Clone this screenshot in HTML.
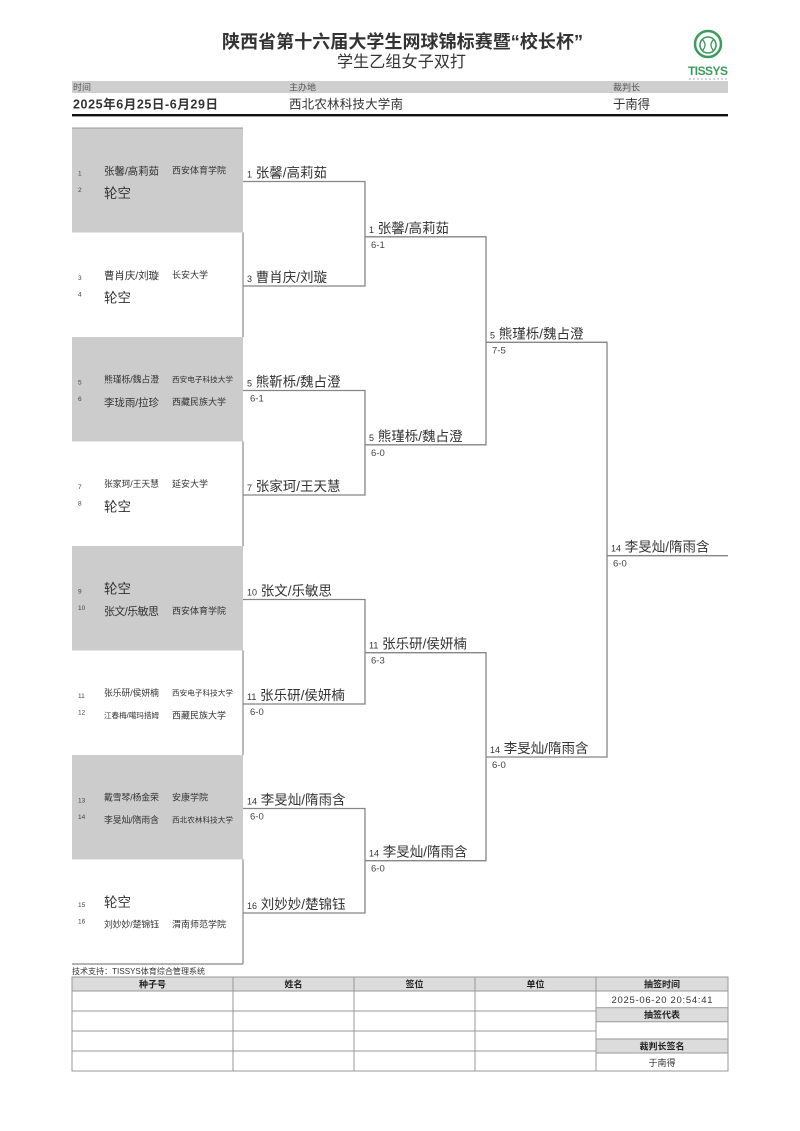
<!DOCTYPE html>
<html><head><meta charset="utf-8">
<style>
html,body{margin:0;padding:0;background:#fff;}
svg{display:block;}
text{font-family:"Liberation Sans","Noto Sans CJK SC",sans-serif;fill:#333;}
.sd{font-size:6.5px;fill:#444;}
.bn{font-size:13.5px;fill:#333;}
.bs{font-size:9px;}
.sc{font-size:9.5px;fill:#444;}
.th{font-size:9px;font-weight:bold;fill:#222;}
.lb{font-size:9px;fill:#555;}
</style></head><body>
<svg width="800" height="1131" viewBox="0 0 800 1131" xmlns="http://www.w3.org/2000/svg">
<rect width="800" height="1131" fill="#fff"/>

<!-- Title -->
<text x="222" y="48" font-size="18" font-weight="bold" fill="#222" textLength="361">陕西省第十六届大学生网球锦标赛暨“校长杯”</text>
<text x="337" y="67" font-size="16" fill="#333" textLength="129">学生乙组女子双打</text>

<!-- Logo -->
<g>
<circle cx="708" cy="44" r="13" fill="none" stroke="#3c9c5c" stroke-width="2.5"/>
<circle cx="708" cy="45" r="8" fill="none" stroke="#3c9c5c" stroke-width="1.6"/>
<path d="M702 39 Q708 45 702 51 M714 39 Q708 45 714 51" fill="none" stroke="#3c9c5c" stroke-width="1.3"/>
<text x="688" y="75" font-size="12" font-weight="bold" textLength="40" style="fill:#3c9c5c">TISSYS</text>
<line x1="689" y1="79" x2="727" y2="79" stroke="#bbb" stroke-width="1.2" stroke-dasharray="2,2"/>
</g>

<!-- Info band -->
<rect x="72" y="81" width="656" height="12" fill="#cfcfcf"/>
<text x="73" y="90.5" class="lb">时间</text>
<text x="289" y="90.5" class="lb">主办地</text>
<text x="613" y="90.5" class="lb">裁判长</text>
<text x="73" y="108.5" font-size="12.5" font-weight="bold" fill="#333" textLength="145">2025年6月25日-6月29日</text>
<text x="289" y="108.5" font-size="12.5" fill="#333" textLength="114">西北农林科技大学南</text>
<text x="613" y="108.5" font-size="12.5" fill="#333" textLength="37">于南得</text>
<rect x="72" y="114" width="656" height="2.4" fill="#111"/>

<!-- Draw blocks -->
<rect x="72" y="128" width="171" height="104.5" fill="#cccccc"/>
<rect x="72" y="337" width="171" height="104.5" fill="#cccccc"/>
<rect x="72" y="546" width="171" height="104.5" fill="#cccccc"/>
<rect x="72" y="755" width="171" height="104.5" fill="#cccccc"/>
<line x1="72" y1="128" x2="243" y2="128" stroke="#999" stroke-width="1"/>
<path d="M243 232.5 V337 M243 441.5 V546 M243 650.5 V755 M243 859.5 V964 M72 964 H243" fill="none" stroke="#888" stroke-width="1.2"/>

<!-- Left entries -->
<text x="78" y="175.3" class="sd">1</text>
<text x="78" y="191.8" class="sd">2</text>
<text x="104" y="174.3" font-size="10.5" textLength="55">张馨/高莉茹</text>
<text x="172" y="173.7" font-size="9" textLength="54">西安体育学院</text>
<text x="104" y="197.9" font-size="13.5" textLength="27">轮空</text>

<text x="78" y="279.8" class="sd">3</text>
<text x="78" y="296.3" class="sd">4</text>
<text x="104" y="278.8" font-size="10.5" textLength="55">曹肖庆/刘璇</text>
<text x="172" y="278.2" font-size="9" textLength="36">长安大学</text>
<text x="104" y="302.4" font-size="13.5" textLength="27">轮空</text>

<text x="78" y="384.3" class="sd">5</text>
<text x="78" y="400.8" class="sd">6</text>
<text x="104" y="382.7" font-size="8.85" textLength="55">熊瑾栎/魏占澄</text>
<text x="172" y="382.2" font-size="7.6" textLength="61">西安电子科技大学</text>
<text x="104" y="405.8" font-size="10.5" textLength="55">李珑雨/拉珍</text>
<text x="172" y="405.2" font-size="9" textLength="54">西藏民族大学</text>

<text x="78" y="488.8" class="sd">7</text>
<text x="78" y="505.3" class="sd">8</text>
<text x="104" y="487.2" font-size="8.85" textLength="55">张家珂/王天慧</text>
<text x="172" y="487.2" font-size="9" textLength="36">延安大学</text>
<text x="104" y="511.4" font-size="13.5" textLength="27">轮空</text>

<text x="78" y="593.3" class="sd">9</text>
<text x="78" y="609.8" class="sd">10</text>
<text x="104" y="593.4" font-size="13.5" textLength="27">轮空</text>
<text x="104" y="615.2" font-size="11" textLength="55">张文/乐敏思</text>
<text x="172" y="614.2" font-size="9" textLength="54">西安体育学院</text>

<text x="78" y="697.8" class="sd">11</text>
<text x="78" y="714.3" class="sd">12</text>
<text x="104" y="696.2" font-size="8.85" textLength="55">张乐研/侯妍楠</text>
<text x="172" y="695.7" font-size="7.6" textLength="61">西安电子科技大学</text>
<text x="104" y="718.2" font-size="7.6" textLength="55">江春梅/噶玛措姆</text>
<text x="172" y="718.7" font-size="9" textLength="54">西藏民族大学</text>

<text x="78" y="802.3" class="sd">13</text>
<text x="78" y="818.8" class="sd">14</text>
<text x="104" y="800.7" font-size="8.85" textLength="55">戴雪琴/杨金荣</text>
<text x="172" y="800.7" font-size="9" textLength="36">安康学院</text>
<text x="104" y="823.2" font-size="8.85" textLength="55">李旻灿/隋雨含</text>
<text x="172" y="822.7" font-size="7.6" textLength="61">西北农林科技大学</text>

<text x="78" y="906.8" class="sd">15</text>
<text x="78" y="923.3" class="sd">16</text>
<text x="104" y="906.9" font-size="13.5" textLength="27">轮空</text>
<text x="104" y="927.7" font-size="8.85" textLength="55">刘妙妙/楚锦钰</text>
<text x="172" y="927.7" font-size="9" textLength="54">渭南师范学院</text>

<!-- Bracket lines -->
<path d="
M243 181.5 H365 V286 H243
M243 390.5 H365 V495 H243
M243 599.5 H365 V704 H243
M243 808.5 H365 V913 H243
M365 236.8 H486 V444.8 H365
M365 652.7 H486 V860.7 H365
M486 342.3 H607 V757 H486
M607 555.7 H728
" fill="none" stroke="#858585" stroke-width="1.3"/>

<!-- Round 1 -->
<text x="247" y="177.5"><tspan class="bs">1</tspan><tspan class="bn"> 张馨/高莉茹</tspan></text>
<text x="247" y="282"><tspan class="bs">3</tspan><tspan class="bn"> 曹肖庆/刘璇</tspan></text>
<text x="247" y="386.5"><tspan class="bs">5</tspan><tspan class="bn"> 熊靳栎/魏占澄</tspan></text>
<text x="250" y="401.5" class="sc">6-1</text>
<text x="247" y="491"><tspan class="bs">7</tspan><tspan class="bn"> 张家珂/王天慧</tspan></text>
<text x="247" y="595.5"><tspan class="bs">10</tspan><tspan class="bn"> 张文/乐敏思</tspan></text>
<text x="247" y="700"><tspan class="bs">11</tspan><tspan class="bn"> 张乐研/侯妍楠</tspan></text>
<text x="250" y="715" class="sc">6-0</text>
<text x="247" y="804.5"><tspan class="bs">14</tspan><tspan class="bn"> 李旻灿/隋雨含</tspan></text>
<text x="250" y="819.5" class="sc">6-0</text>
<text x="247" y="909"><tspan class="bs">16</tspan><tspan class="bn"> 刘妙妙/楚锦钰</tspan></text>

<!-- Round 2 -->
<text x="369" y="232.8"><tspan class="bs">1</tspan><tspan class="bn"> 张馨/高莉茹</tspan></text>
<text x="371" y="247.8" class="sc">6-1</text>
<text x="369" y="440.8"><tspan class="bs">5</tspan><tspan class="bn"> 熊瑾栎/魏占澄</tspan></text>
<text x="371" y="455.8" class="sc">6-0</text>
<text x="369" y="648.7"><tspan class="bs">11</tspan><tspan class="bn"> 张乐研/侯妍楠</tspan></text>
<text x="371" y="663.7" class="sc">6-3</text>
<text x="369" y="856.7"><tspan class="bs">14</tspan><tspan class="bn"> 李旻灿/隋雨含</tspan></text>
<text x="371" y="871.7" class="sc">6-0</text>

<!-- Round 3 -->
<text x="490" y="338.3"><tspan class="bs">5</tspan><tspan class="bn"> 熊瑾栎/魏占澄</tspan></text>
<text x="492" y="353.3" class="sc">7-5</text>
<text x="490" y="753"><tspan class="bs">14</tspan><tspan class="bn"> 李旻灿/隋雨含</tspan></text>
<text x="492" y="768" class="sc">6-0</text>

<!-- Final -->
<text x="611" y="551.7"><tspan class="bs">14</tspan><tspan class="bn"> 李旻灿/隋雨含</tspan></text>
<text x="613" y="566.7" class="sc">6-0</text>

<!-- Footer -->
<text x="72" y="974" font-size="8" fill="#555" textLength="133">技术支持：TISSYS体育综合管理系统</text>

<!-- Table -->
<rect x="72" y="977" width="524" height="14" fill="#dcdcdc"/>
<rect x="596" y="977" width="132" height="14" fill="#dcdcdc"/>
<rect x="596" y="1007.7" width="132" height="14" fill="#dcdcdc"/>
<rect x="596" y="1039" width="132" height="14" fill="#dcdcdc"/>
<path d="
M72 977 H728 V1071 H72 Z
M72 991 H728
M72 1011 H596 M72 1031 H596 M72 1051 H596
M596 1007.7 H728 M596 1021.7 H728 M596 1039 H728 M596 1053 H728
M233 977 V1071 M354 977 V1071 M475 977 V1071 M596 977 V1071
" fill="none" stroke="#999" stroke-width="1"/>
<text x="152.5" y="987.3" class="th" text-anchor="middle">种子号</text>
<text x="293.5" y="987.3" class="th" text-anchor="middle">姓名</text>
<text x="414.5" y="987.3" class="th" text-anchor="middle">签位</text>
<text x="535.5" y="987.3" class="th" text-anchor="middle">单位</text>
<text x="662" y="987.3" class="th" text-anchor="middle">抽签时间</text>
<text x="611.5" y="1003" font-size="9.5" fill="#444" textLength="101">2025-06-20 20:54:41</text>
<text x="662" y="1018" class="th" text-anchor="middle">抽签代表</text>
<text x="662" y="1049.3" class="th" text-anchor="middle">裁判长签名</text>
<text x="662" y="1066" font-size="9" fill="#444" text-anchor="middle">于南得</text>
</svg>
</body></html>
